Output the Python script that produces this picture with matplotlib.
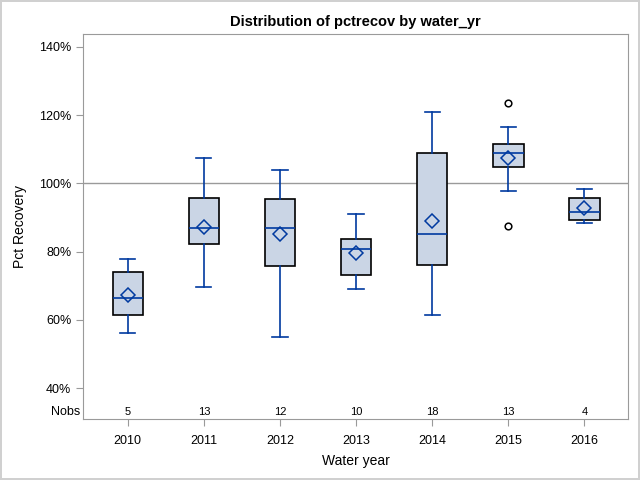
import matplotlib
matplotlib.use('Agg')
import matplotlib.pyplot as plt
from matplotlib.ticker import FuncFormatter

plt.rcParams['font.family'] = ['Liberation Sans', 'DejaVu Sans']

# values (pct recovery)
years = ['2010', '2011', '2012', '2013', '2014', '2015', '2016']
nobs = [5, 13, 12, 10, 18, 13, 4]
whis_lo = [56.2, 69.7, 55.0, 69.1, 61.5, 97.7, 88.5]
q1 = [61.5, 82.3, 75.7, 73.2, 76.2, 104.9, 89.4]
med = [66.5, 87.0, 86.8, 80.8, 85.2, 108.8, 91.7]
q3 = [74.1, 95.8, 95.5, 83.8, 108.8, 111.6, 95.8]
whis_hi = [77.9, 107.5, 104.0, 91.1, 121.0, 116.6, 98.3]
means = [67.4, 87.3, 85.2, 79.7, 89.1, 107.5, 92.7]
outliers = [[], [], [], [], [], [123.4, 87.6], []]

blue = '#003AA0'
gray = '#9A9A9A'

fig = plt.figure(figsize=(6.4, 4.8), dpi=100, edgecolor='#D0D0D0', linewidth=1.5)
ax = fig.add_axes([0.130, 0.1265, 0.851, 0.8025])

stats = []
for i in range(len(years)):
    stats.append({'whislo': whis_lo[i], 'q1': q1[i], 'med': med[i], 'q3': q3[i],
                  'whishi': whis_hi[i], 'mean': means[i], 'fliers': outliers[i]})

ax.axhline(100, color=gray, lw=1, zorder=1)
ax.bxp(stats, positions=range(len(years)), widths=0.4, patch_artist=True,
       showmeans=True, showfliers=True,
       boxprops=dict(facecolor='#CAD5E5', edgecolor='black', lw=1.2),
       whiskerprops=dict(color=blue, lw=1.2),
       capprops=dict(color=blue, lw=1.2),
       medianprops=dict(color=blue, lw=1.2),
       meanprops=dict(marker='D', markerfacecolor='none', markeredgecolor=blue,
                      markersize=7, markeredgewidth=1.1),
       flierprops=dict(marker='o', markerfacecolor='none', markeredgecolor='black',
                       markersize=4.8, markeredgewidth=1.1),
       zorder=3)

for i, n in enumerate(nobs):
    ax.text(i, 33.1, str(n), ha='center', va='center', fontsize=8)
ax.text(-0.62, 33.1, 'Nobs', ha='right', va='center', fontsize=9)

ax.set_xlim(-0.585, 6.57)
ax.set_ylim(30.9, 143.7)
ax.set_yticks([40, 60, 80, 100, 120, 140])
ax.yaxis.set_major_formatter(FuncFormatter(lambda v, p: '%d%%' % v))
ax.set_xticks(range(len(years)))
ax.set_xticklabels(years)

for s in ax.spines.values():
    s.set_color(gray)
ax.tick_params(colors=gray, labelcolor='black', labelsize=9, length=5)
ax.tick_params(axis='x', pad=6)

ax.set_title('Distribution of pctrecov by water_yr', fontsize=10.5, fontweight='bold', pad=6)
ax.set_xlabel('Water year', fontsize=10, labelpad=5)
ax.set_ylabel('Pct Recovery', fontsize=10, labelpad=9)

fig.savefig('out.png', dpi=100)
